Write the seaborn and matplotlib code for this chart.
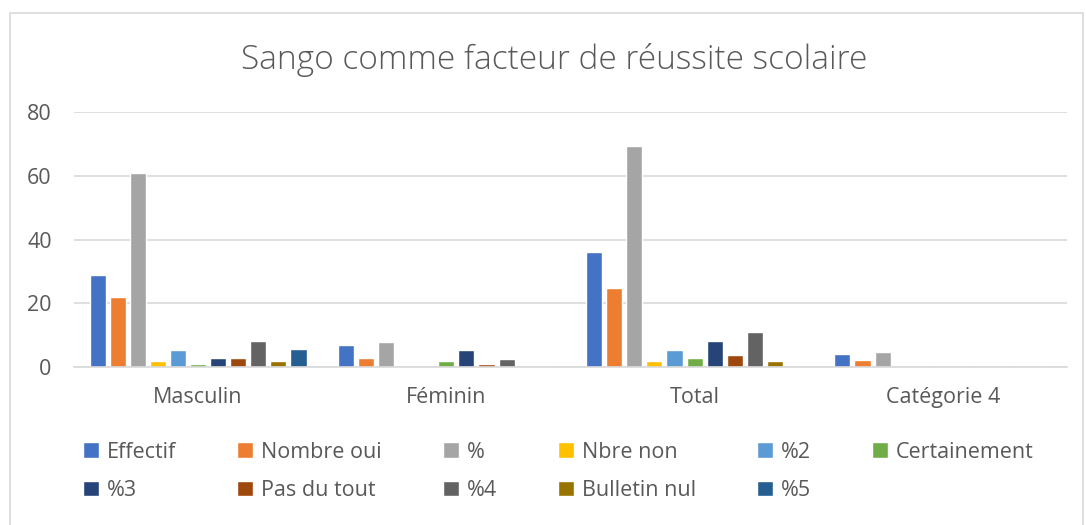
import pandas as pd
import numpy as np
import seaborn as sns
import matplotlib.pyplot as plt
from matplotlib.patches import Rectangle

# Donnees
categories = ['Masculin', 'Féminin', 'Total', 'Catégorie 4']
series = ['Effectif', 'Nombre oui', '%', 'Nbre non', '%2', 'Certainement',
          '%3', 'Pas du tout', '%4', 'Bulletin nul', '%5']
effectif = [29, 7, 36, 4.3]
nombre_oui = [22, 3, 25, 2.4]
pct = [61, 8, 69.4, 4.8]
nbre_non = [2, 0, 2, 0]
pct2 = [5.3, 0, 5.3, 0]
certainement = [1, 2, 3, 0]
pct3 = [2.8, 5.4, 8.2, 0]
pas_du_tout = [3, 1, 4, 0]
pct4 = [8.1, 2.7, 11, 0]
bulletin_nul = [2, 0, 2, 0]
pct5 = [5.6, 0, 0, 0]

colors = ['#4472C4', '#ED7D31', '#A5A5A5', '#FFC000', '#5B9BD5', '#70AD47',
          '#264478', '#9E480E', '#636363', '#997300', '#255E91']

values = [effectif, nombre_oui, pct, nbre_non, pct2, certainement,
          pct3, pas_du_tout, pct4, bulletin_nul, pct5]
rows = []
for s, vals in zip(series, values):
    for c, v in zip(categories, vals):
        rows.append({'Categorie': c, 'Serie': s, 'Valeur': v})
df = pd.DataFrame(rows)

sns.set_theme(style='white')
plt.rcParams['font.family'] = ['Open Sans', 'DejaVu Sans']

fig = plt.figure(figsize=(10.86, 5.25), dpi=100)
ax = fig.add_axes([0.0681, 0.3004, 0.9144, 0.4863])

sns.barplot(data=df, x='Categorie', y='Valeur', hue='Serie', hue_order=series,
            order=categories, palette=colors, width=0.89, gap=0.2,
            saturation=1, ax=ax, legend=True)

ax.set_ylim(0, 80)
ax.set_yticks([0, 20, 40, 60, 80])
ax.yaxis.grid(True, color='#d9d9d9', linewidth=1.2)
ax.set_axisbelow(True)
for sp in ['top', 'right', 'left']:
    ax.spines[sp].set_visible(False)
ax.spines['bottom'].set_color('#d9d9d9')
ax.spines['bottom'].set_linewidth(1.2)
ax.set_xlabel('')
ax.set_ylabel('')
ax.tick_params(axis='both', colors='#595959', labelsize=15.5, length=0)
ax.tick_params(axis='y', pad=16)
ax.tick_params(axis='x', pad=14)

fig.suptitle('Sango comme facteur de réussite scolaire', x=0.51, y=0.918,
             fontsize=24, color='#595959', fontweight='light')

# legende en lignes (ordre Excel)
handles, labels = ax.get_legend_handles_labels()
ax.get_legend().remove()
order = []
for j in range(6):
    order.append(j)
    if j + 6 < len(series):
        order.append(j + 6)
fig.legend([handles[i] for i in order], [labels[i] for i in order],
           loc='center', bbox_to_anchor=(0.514, 0.102), ncol=6,
           frameon=False, fontsize=15.5, labelcolor='#595959',
           handlelength=0.75, handleheight=0.75, handletextpad=0.35,
           columnspacing=2.85, labelspacing=0.8)

fig.patches.append(Rectangle((10 / 1086, -0.01), 1073 / 1086, 0.985,
                             transform=fig.transFigure, fill=False,
                             edgecolor='#d9d9d9', linewidth=1.2))

fig.savefig('out.png', dpi=100)
